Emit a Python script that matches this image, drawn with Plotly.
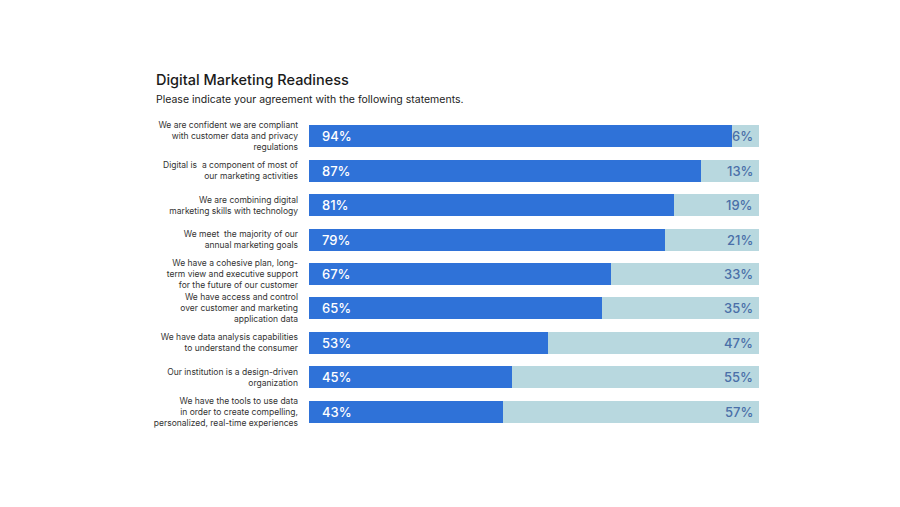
import plotly.graph_objects as go

categories = [
    "We are confident we are compliant<br>with customer data and privacy<br>regulations",
    "Digital is  a component of most of<br>our marketing activities",
    "We are combining digital<br>marketing skills with technology",
    "We meet  the majority of our<br>annual marketing goals",
    "We have a cohesive plan, long-<br>term view and executive support<br>for the future of our customer",
    "We have access and control<br>over customer and marketing<br>application data",
    "We have data analysis capabilities<br>to understand the consumer",
    "Our institution is a design-driven<br>organization",
    "We have the tools to use data<br>in order to create compelling,<br>personalized, real-time experiences",
]
agree = [94, 87, 81, 79, 67, 65, 53, 45, 43]
disagree = [6, 13, 19, 21, 33, 35, 47, 55, 57]

DARK = "#2F72D8"
LIGHT = "#B8D8DF"
FONT = "Inter"

fig = go.Figure()
fig.add_trace(go.Bar(y=categories, x=agree, orientation="h", marker=dict(color=DARK, line=dict(width=0)),
                     hoverinfo="skip"))
fig.add_trace(go.Bar(y=categories, x=disagree, orientation="h", marker=dict(color=LIGHT, line=dict(width=0)),
                     hoverinfo="skip"))

for c, a, d in zip(categories, agree, disagree):
    fig.add_annotation(x=0, y=c, text=f"{a}%", xanchor="left", xshift=11, showarrow=False,
                       font=dict(family=FONT, size=13, color="white", weight=500))
    fig.add_annotation(x=100, y=c, text=f"{d}%", xanchor="right", xshift=-4, showarrow=False,
                       font=dict(family=FONT, size=13, color="#4A6FA8", weight=500))

fig.add_annotation(xref="paper", yref="paper", x=-0.345, y=1.125, text="Digital Marketing Readiness",
                   xanchor="left", yanchor="middle", showarrow=False,
                   font=dict(family=FONT, size=14.5, color="#1a1a1a", weight=500))
fig.add_annotation(xref="paper", yref="paper", x=-0.345, y=1.0613, text="Please indicate your agreement with the following statements.",
                   xanchor="left", yanchor="middle", showarrow=False,
                   font=dict(family=FONT, size=10.5, color="#222222"))

fig.update_layout(
    barmode="stack",
    bargap=0.36,
    width=900, height=507,
    margin=dict(l=301, r=149, t=111, b=86),
    paper_bgcolor="white", plot_bgcolor="white",
    showlegend=False,
    font=dict(family=FONT),
    xaxis=dict(range=[0, 100], visible=False, fixedrange=True),
    yaxis=dict(autorange="reversed", showgrid=False, zeroline=False, showline=False,
               ticks="", ticklabelstandoff=10,
               tickfont=dict(family=FONT, size=8.5, color="#333333")),
)

fig.write_html("out.html")
